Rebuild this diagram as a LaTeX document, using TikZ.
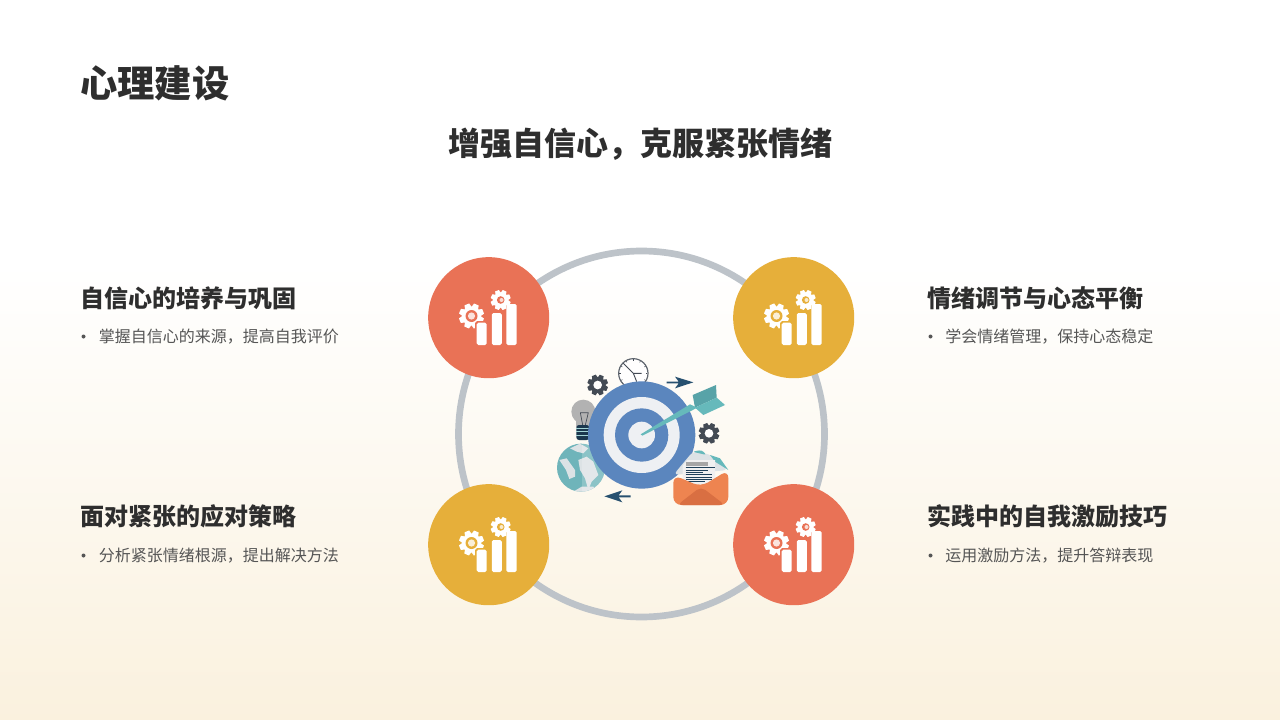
\documentclass[tikz,border=0pt]{standalone}
\usepackage{fontspec}
\setmainfont{Noto Sans CJK SC}
\definecolor{ringc}{HTML}{BDC3C9}
\definecolor{redc}{HTML}{E97256}
\definecolor{yelc}{HTML}{E6AF3A}
\definecolor{headc}{HTML}{2E2E2E}
\definecolor{bodyc}{HTML}{555555}
\definecolor{bgend}{HTML}{FAF1DE}
\definecolor{tblue}{HTML}{5B86BE}
\definecolor{twhite}{HTML}{EEF0F3}
\definecolor{teal}{HTML}{66B9BB}
\definecolor{tealb}{HTML}{58A3A8}
\definecolor{seac}{HTML}{6FB4BA}
\definecolor{landc}{HTML}{DCE2E5}
\definecolor{darkg}{HTML}{434A54}
\definecolor{navy}{HTML}{27506F}
\definecolor{orangec}{HTML}{EE8450}
\definecolor{oranged}{HTML}{D96F42}
\tikzset{
  badge/.style={circle,inner sep=0pt,minimum size=90.8pt},
  ringnode/.style={circle,draw=ringc,line width=5pt,inner sep=0pt,minimum size=274.5pt},
  titlet/.style={anchor=west,inner sep=0pt,text=headc,font=\bfseries\fontsize{28pt}{32pt}\selectfont},
  subt/.style={anchor=center,inner sep=0pt,text=headc,font=\bfseries\fontsize{24pt}{30pt}\selectfont},
  headt/.style={anchor=west,inner sep=0pt,text=headc,font=\bfseries\fontsize{18pt}{22pt}\selectfont},
  bodyt/.style={anchor=west,inner sep=0pt,text=bodyc,font=\fontsize{12pt}{15pt}\selectfont},
  bullet/.style={circle,fill=bodyc,inner sep=0pt,minimum size=3pt},
}
% gear: centre x,y radius r colour, hole colour, hole radius
\newcommand{\gearshape}[6]{%
  \begin{scope}[shift={(#1,#2)},scale=#3]
    \fill[#4] (0,0) circle (0.76);
    \foreach \a in {0,45,...,315}{
      \fill[#4,rotate=\a+22] (-0.3,0.6) -- (-0.2,1) -- (0.2,1) -- (0.3,0.6) -- cycle;
    }
    \fill[#5] (0,0) circle (#6);
  \end{scope}}
% chart icon relative to badge centre
\newcommand{\charticon}[3]{%
  \begin{scope}[shift={(#1,#2)}]
    \gearshape{-17.5}{-2}{12.5}{white}{#3}{0.48}
    \fill[white!80!#3] (-17.5,-2) circle (3.6);
    \gearshape{11.7}{-18}{10}{white}{#3}{0.38}
    \fill[white!75!#3] (12.5,-18) circle (2);
    \fill[#3,rounded corners=1.2pt] (-13.8,3.2) rectangle (-0.8,27.6);
    \fill[white,rounded corners=1.2pt] (-12.3,4.7) rectangle (-2.3,27);
    \fill[#3,rounded corners=1.2pt] (1.3,-6.5) rectangle (14.3,27.6);
    \fill[white,rounded corners=1.2pt] (2.8,-5) rectangle (12.8,27);
    \fill[white,rounded corners=1.2pt] (17.3,-14) rectangle (27.7,27);
  \end{scope}}
\begin{document}
\begin{tikzpicture}[x=0.75pt,y=-0.75pt]
\useasboundingbox (0,0) rectangle (1280,720);
\fill[white] (0,0) rectangle (1280,265);
\fill[top color=white,bottom color=bgend] (0,265) rectangle (1280,720);

\node[titlet] (title) at (80,83) {心理建设};
\node[subt] (sub) at (640,144) {增强自信心，克服紧张情绪};

\node[ringnode] (ring) at (641.5,434) {};
\node[badge,fill=redc] (b1) at (488.7,317.7) {};
\node[badge,fill=yelc] (b2) at (793.7,317.7) {};
\node[badge,fill=yelc] (b3) at (488.7,544.7) {};
\node[badge,fill=redc] (b4) at (793.7,544.7) {};
\charticon{489}{318}{redc}
\charticon{794}{318}{yelc}
\charticon{489}{545}{yelc}
\charticon{794}{545}{redc}

\node[headt] (h1) at (80,298) {自信心的培养与巩固};
\node[bullet] (d1) at (83.5,336.5) {};
\node[bodyt] (t1) at (98.5,336.5) {掌握自信心的来源，提高自我评价};
\node[headt] (h2) at (927,298) {情绪调节与心态平衡};
\node[bullet] (d2) at (930.5,336.5) {};
\node[bodyt] (t2) at (945,336.5) {学会情绪管理，保持心态稳定};
\node[headt] (h3) at (80,516) {面对紧张的应对策略};
\node[bullet] (d3) at (83.5,555.5) {};
\node[bodyt] (t3) at (98.5,555.5) {分析紧张情绪根源，提出解决方法};
\node[headt] (h4) at (927,516) {实践中的自我激励技巧};
\node[bullet] (d4) at (930.5,555.5) {};
\node[bodyt] (t4) at (945,555.5) {运用激励方法，提升答辩表现};

% central illustration, drawn in zoom coordinates
\begin{scope}[shift={(540,345)},scale=1/3]
  % clock
  \filldraw[fill=white!96!bgend,draw=darkg!85!white,line width=0.9pt] (280,85) circle (44);
  \draw[darkg,line width=0.7pt] (280,85) -- (250,55) (280,85) -- (305,85) (280,85) -- (290,110);
  \foreach \a in {0,30,...,330}{\draw[darkg,line width=0.4pt] (280,85) ++(\a:38) -- ++(\a:4);}
  % gears
  \gearshape{173}{120}{31}{darkg}{white!96!bgend}{0.42}
  \gearshape{507}{265}{31}{darkg}{white!96!bgend}{0.42}
  % bulb
  \fill[black!30] (130,200) circle (36);
  \fill[black!30] (108,220) rectangle (152,245);
  \draw[darkg,line width=0.5pt] (121,203) -- (128,240) (145,203) -- (136,240) (120,203) -- (146,203);
  \fill[navy!70!black,rounded corners=2pt] (109,240) rectangle (148,285);
  \foreach \y in {250,260,270}{\draw[teal!60!white,line width=0.4pt] (109,\y) -- (148,\y);}
  % globe
  \fill[seac] (123,368) circle (72);
  \begin{scope}
    \clip (123,368) circle (72);
    \fill[landc] (90,310) -- (120,296) -- (145,310) -- (130,325) -- (110,320) -- cycle;
    \fill[landc] (58,345) -- (80,340) -- (105,375) -- (105,395) -- (88,402) -- (78,375) -- cycle;
    \fill[landc] (115,345) -- (140,335) -- (160,350) -- (175,390) -- (155,410) -- (145,435) -- (135,400) -- (120,375) -- cycle;
    \fill[landc] (100,440) -- (125,425) -- (160,425) -- (170,445) -- cycle;
    \fill[white,opacity=0.2] (125,296) rectangle (200,445);
  \end{scope}
  % target
  \fill[tblue] (305,270) circle (161);
  \fill[twhite] (305,270) circle (114);
  \fill[tblue] (305,270) circle (80);
  \fill[twhite] (305,270) circle (40);
  % dart
  \fill[tealb] (458,150) -- (528,120) -- (530,158) -- (465,188) -- cycle;
  \fill[teal] (530,158) -- (555,180) -- (490,210) -- (465,188) -- cycle;
  \fill[teal] (302,268) -- (450,178) -- (472,188) -- (307,272) -- cycle;
  % arrows
  \fill[navy] (380,110) -- (416,110) -- (405,95) -- (460,112) -- (405,130) -- (416,115) -- (380,115) -- cycle;
  \fill[navy] (272,451) -- (236,451) -- (247,436) -- (193,454) -- (247,472) -- (236,457) -- (272,457) -- cycle;
  % envelope
  \fill[landc,rounded corners=4pt] (400,390) -- (460,318) -- (515,330) -- (565,375) -- cycle;
  \fill[teal,rounded corners=2pt] (457,320) -- (485,315) -- (500,330) -- cycle;
  \fill[teal] (510,330) -- (540,340) -- (565,375) -- (525,350) -- cycle;
  \fill[white!94!black] (428,362) -- (442,345) -- (525,345) -- (525,418) -- (428,418) -- cycle;
  \fill[black!35] (437,352) rectangle (505,362);
  \foreach \y/\x in {368/525,375/505,382/490,389/515,396/515,403/515,410/495}{\draw[navy!80!black,line width=0.5pt] (437,\y) -- (\x,\y);}
  \fill[orangec,rounded corners=6pt] (400,390) -- (483,425) -- (565,375) -- (565,480) -- (400,480) -- cycle;
  \fill[oranged,rounded corners=4pt] (412,480) -- (483,425) -- (555,480) -- cycle;
\end{scope}
\end{tikzpicture}
\end{document}
